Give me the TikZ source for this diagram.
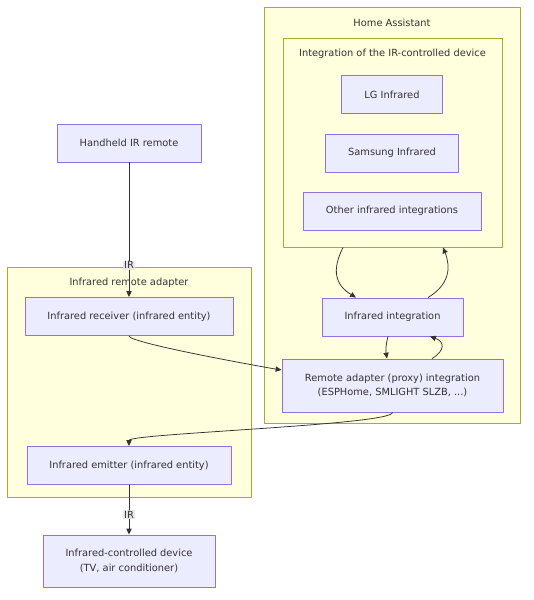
\documentclass[tikz,border=0pt]{standalone}
\usepackage{fontspec}
\setmainfont{DejaVu Sans}
\usetikzlibrary{arrows.meta,calc}

\definecolor{boxfill}{HTML}{ECECFF}
\definecolor{boxline}{HTML}{9370DB}
\definecolor{grpfill}{HTML}{FFFFDE}
\definecolor{grpline}{HTML}{AAAA33}
\definecolor{ink}{HTML}{333333}
\definecolor{tagfill}{HTML}{E6E6E6}

\begin{document}
\begin{tikzpicture}[
  x=0.03cm, y=-0.03cm,
  line join=round,
  font=\fontsize{8.4}{12.6}\selectfont,
  text=ink,
  box/.style={draw=boxline, fill=boxfill, line width=0.8pt, align=center,
    minimum height=1.14cm, inner sep=2pt},
  group/.style={draw=grpline, fill=grpfill, line width=0.8pt, inner sep=0pt},
  wire/.style={draw=ink, line width=0.65pt, -{Triangle[length=5pt,width=4.5pt]}},
  tag/.style={fill=tagfill, fill opacity=0.9, text opacity=1, inner sep=0.8pt},
]
\useasboundingbox[fill=white] (0,0) rectangle (533,600);

% ── the groups ────────────────────────────────────────────────────────────
\node[group, minimum width=7.68cm, minimum height=12.48cm] (ha) at (392,215) {};
\node[group, minimum width=6.57cm, minimum height=6.27cm] (intdev) at (392.5,142.5) {};
\node[group, minimum width=7.32cm, minimum height=6.9cm] (adapter) at (129,382) {};
\node (ha title) at ($(ha.north)+(0,16)$) {Home Assistant};
\node (intdev title) at ($(intdev.north)+(0,16)$) {Integration of the IR-controlled device};
\node (adapter title) at ($(adapter.north)+(0,16)$) {Infrared remote adapter};

% ── the boxes ─────────────────────────────────────────────────────────────
\node[box, minimum width=4.32cm] (handheld) at (129,143) {Handheld IR remote};
\node[box, minimum width=6.24cm] (receiver) at (129,316.5) {Infrared receiver (infrared entity)};
\node[box, minimum width=6.12cm] (emitter) at (129,465.5) {Infrared emitter (infrared entity)};
\node[box, minimum width=5.16cm, minimum height=1.56cm] (device) at (129,561)
  {Infrared-controlled device\\(TV, air conditioner)};

\foreach \n/\y/\w/\t in {lg/94.5/3.03/LG Infrared,
                         samsung/153/3.99/Samsung Infrared,
                         other/211/5.34/Other infrared integrations}
  { \node[box, minimum width=\w cm] (\n) at (392,\y) {\t}; }

\node[box, minimum width=4.23cm] (integ) at (392.5,317) {Infrared integration};
\node[box, minimum width=6.63cm, minimum height=1.59cm] (remote) at (392.5,385.5)
  {Remote adapter (proxy) integration\\(ESPHome, SMLIGHT SLZB, ...)};

% ── the connectors ────────────────────────────────────────────────────────
\draw[wire] (handheld) -- (receiver) node[tag, pos=0.765] {IR};
\draw[wire] (receiver.south) to[out=-90, in=172, looseness=0.12] (remote.172);
\draw[wire] (remote.south) to[out=-90, in=90, looseness=0.12] (emitter.north);
\draw[wire] (emitter) -- (device) node[tag, pos=0.6] {IR};

\coordinate (intdev out) at ($(intdev.south)+(-49.5,0)$);
\coordinate (intdev in)  at ($(intdev.south)+(50.5,0)$);
\draw[wire] (intdev out) .. controls ($(intdev out)+(-11,22)$) and ($(integ.north)+(-58,-13)$)
  .. ($(integ.north)+(-36.5,0)$);
\draw[wire] ($(integ.north)+(35.5,0)$) .. controls ($(integ.north)+(57,-13)$) and ($(intdev in)+(8,20)$)
  .. (intdev in);
\draw[wire] ($(integ.south)+(-4.5,0)$) to[bend right=12] ($(remote.north)+(-5.5,0)$);
\draw[wire] ($(remote.north)+(39.5,0)$) .. controls ($(remote.north)+(53,-8)$) and ($(integ.south)+(52,5)$)
  .. ($(integ.south)+(37.5,0)$);

\end{tikzpicture}
\end{document}
